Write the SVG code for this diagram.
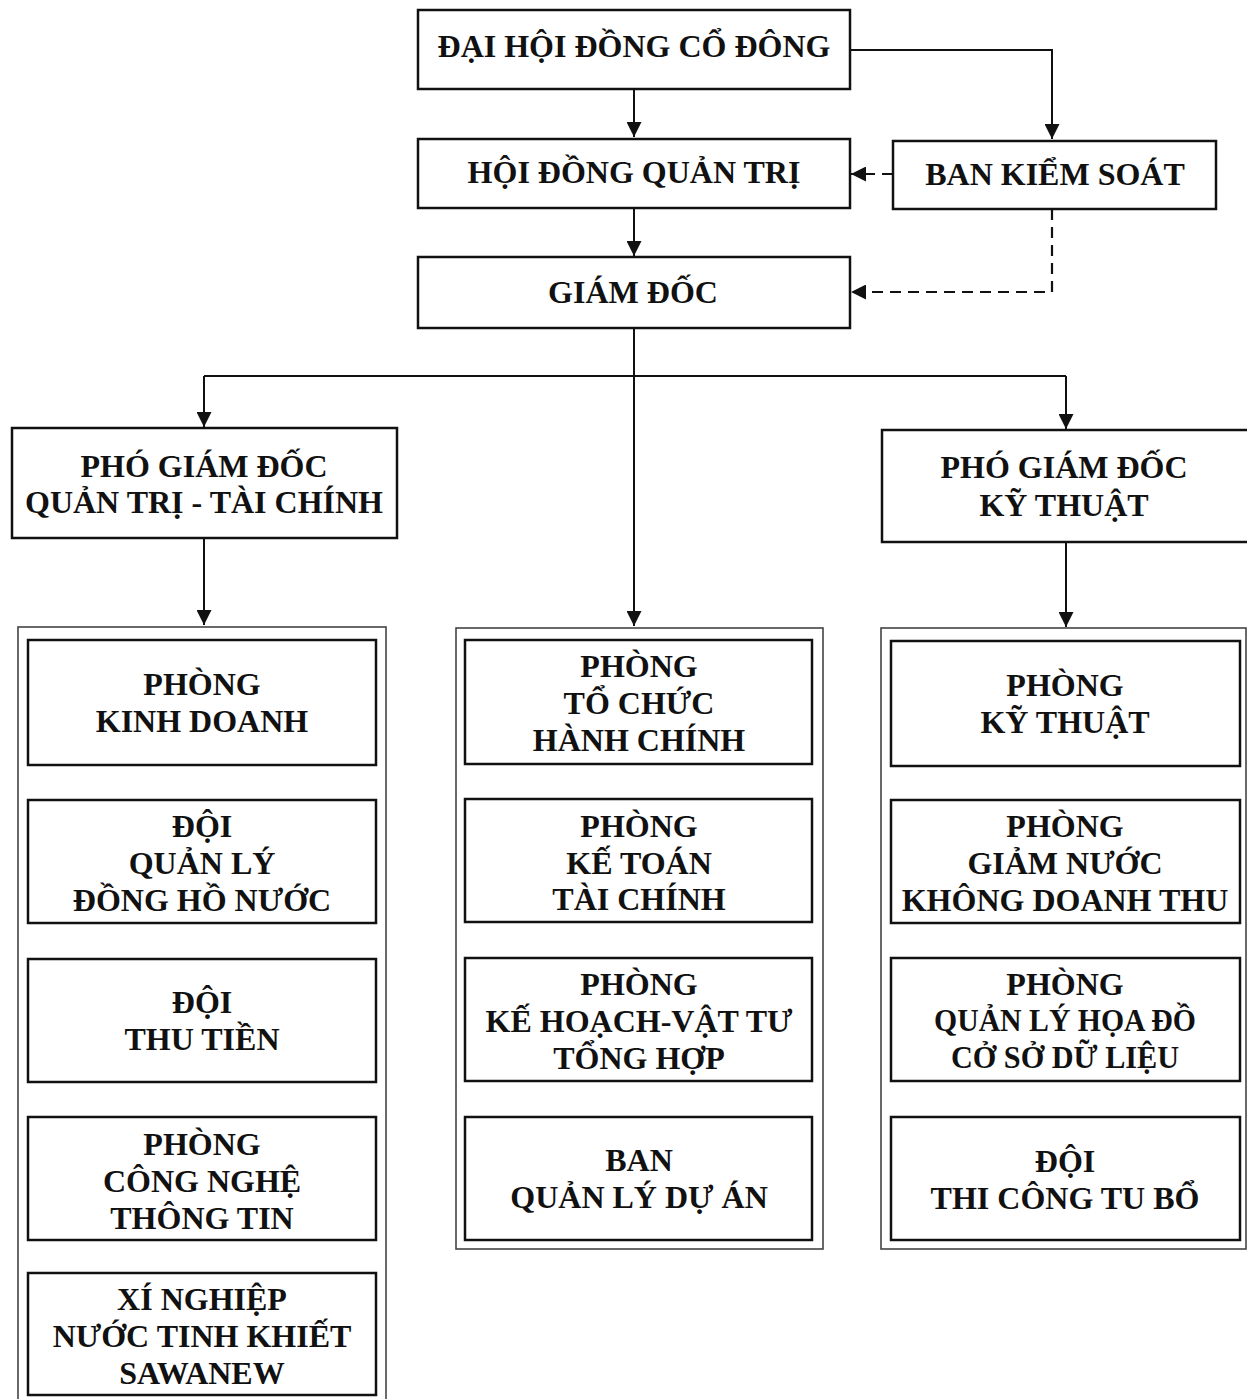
<svg xmlns="http://www.w3.org/2000/svg" width="1247" height="1399" viewBox="0 0 1247 1399">
<style>
.bg{fill:#ffffff}
.box{fill:#ffffff;stroke:#111111;stroke-width:2.5}
.cont{fill:none;stroke:#444444;stroke-width:1.6}
.t{font-family:"Liberation Serif","Times New Roman",serif;font-weight:bold;font-size:32px;fill:#111111;text-anchor:middle}
.c{fill:none;stroke:#111111;stroke-width:2}
.d{fill:none;stroke:#111111;stroke-width:2.2;stroke-dasharray:11 7}
</style>
<defs>
<marker id="ah" viewBox="0 0 10 10" refX="10" refY="5" markerWidth="17" markerHeight="15" markerUnits="userSpaceOnUse" orient="auto">
<path d="M0,0 L10,5 L0,10 Z" fill="#111111"/>
</marker>
</defs>
<rect class="bg" x="0" y="0" width="1247" height="1399"/>

<g id="containers">
<rect id="container-left" class="cont" x="18" y="627" width="368" height="800"/>
<rect id="container-mid" class="cont" x="456" y="628" width="367" height="621"/>
<rect id="container-right" class="cont" x="881" y="628" width="365" height="621"/>
</g>

<g id="connectors">
<path class="c" d="M634,89 V137" marker-end="url(#ah)"/>
<path class="c" d="M850,50 H1052 V139" marker-end="url(#ah)"/>
<path class="c" d="M634,208 V256" marker-end="url(#ah)"/>
<path class="d" d="M893,174 H851" marker-end="url(#ah)"/>
<path class="d" d="M1052,209 V292 H851" marker-end="url(#ah)"/>
<path class="c" d="M634,328 V626" marker-end="url(#ah)"/>
<path class="c" d="M204,376 H1066"/>
<path class="c" d="M204,376 V427" marker-end="url(#ah)"/>
<path class="c" d="M1066,376 V429" marker-end="url(#ah)"/>
<path class="c" d="M204,538 V625" marker-end="url(#ah)"/>
<path class="c" d="M1066,542 V627" marker-end="url(#ah)"/>
</g>

<g id="dai-hoi-dong-co-dong">
<rect class="box" x="418" y="10" width="432" height="79"/>
<text class="t" x="634" y="57">ĐẠI HỘI ĐỒNG CỔ ĐÔNG</text>
</g>
<g id="hoi-dong-quan-tri">
<rect class="box" x="418" y="139" width="432" height="69"/>
<text class="t" x="634" y="183">HỘI ĐỒNG QUẢN TRỊ</text>
</g>
<g id="ban-kiem-soat">
<rect class="box" x="893" y="141" width="323" height="68"/>
<text class="t" x="1055" y="185">BAN KIỂM SOÁT</text>
</g>
<g id="giam-doc">
<rect class="box" x="418" y="257" width="432" height="71"/>
<text class="t" x="633" y="303">GIÁM ĐỐC</text>
</g>
<g id="pgd-quan-tri-tai-chinh">
<rect class="box" x="12" y="428" width="385" height="110"/>
<text class="t" x="204" y="477">PHÓ GIÁM ĐỐC</text>
<text class="t" x="204" y="513">QUẢN TRỊ - TÀI CHÍNH</text>
</g>
<g id="pgd-ky-thuat">
<rect class="box" x="882" y="430" width="372" height="112"/>
<text class="t" x="1064" y="478">PHÓ GIÁM ĐỐC</text>
<text class="t" x="1064" y="516">KỸ THUẬT</text>
</g>

<g id="phong-kinh-doanh">
<rect class="box" x="28" y="640" width="348" height="125"/>
<text class="t" x="202" y="695">PHÒNG</text>
<text class="t" x="202" y="732">KINH DOANH</text>
</g>
<g id="doi-quan-ly-dong-ho-nuoc">
<rect class="box" x="28" y="800" width="348" height="123"/>
<text class="t" x="202" y="837">ĐỘI</text>
<text class="t" x="202" y="874">QUẢN LÝ</text>
<text class="t" x="202" y="911">ĐỒNG HỒ NƯỚC</text>
</g>
<g id="doi-thu-tien">
<rect class="box" x="28" y="959" width="348" height="123"/>
<text class="t" x="202" y="1013">ĐỘI</text>
<text class="t" x="202" y="1050">THU TIỀN</text>
</g>
<g id="phong-cong-nghe-thong-tin">
<rect class="box" x="28" y="1117" width="348" height="123"/>
<text class="t" x="202" y="1155">PHÒNG</text>
<text class="t" x="202" y="1192">CÔNG NGHỆ</text>
<text class="t" x="202" y="1229">THÔNG TIN</text>
</g>
<g id="xi-nghiep-nuoc-tinh-khiet">
<rect class="box" x="28" y="1273" width="348" height="122"/>
<text class="t" x="202" y="1310">XÍ NGHIỆP</text>
<text class="t" x="202" y="1347">NƯỚC TINH KHIẾT</text>
<text class="t" x="202" y="1384">SAWANEW</text>
</g>

<g id="phong-to-chuc-hanh-chinh">
<rect class="box" x="465" y="640" width="347" height="124"/>
<text class="t" x="639" y="677">PHÒNG</text>
<text class="t" x="639" y="714">TỔ CHỨC</text>
<text class="t" x="639" y="751">HÀNH CHÍNH</text>
</g>
<g id="phong-ke-toan-tai-chinh">
<rect class="box" x="465" y="799" width="347" height="123"/>
<text class="t" x="639" y="837">PHÒNG</text>
<text class="t" x="639" y="874">KẾ TOÁN</text>
<text class="t" x="639" y="910">TÀI CHÍNH</text>
</g>
<g id="phong-ke-hoach-vat-tu">
<rect class="box" x="465" y="958" width="347" height="123"/>
<text class="t" x="639" y="995">PHÒNG</text>
<text class="t" x="639" y="1032">KẾ HOẠCH-VẬT TƯ</text>
<text class="t" x="639" y="1069">TỔNG HỢP</text>
</g>
<g id="ban-quan-ly-du-an">
<rect class="box" x="465" y="1117" width="347" height="123"/>
<text class="t" x="639" y="1171">BAN</text>
<text class="t" x="639" y="1208">QUẢN LÝ DỰ ÁN</text>
</g>

<g id="phong-ky-thuat">
<rect class="box" x="891" y="641" width="349" height="125"/>
<text class="t" x="1065" y="696">PHÒNG</text>
<text class="t" x="1065" y="733">KỸ THUẬT</text>
</g>
<g id="phong-giam-nuoc-khong-doanh-thu">
<rect class="box" x="891" y="800" width="349" height="123"/>
<text class="t" x="1065" y="837">PHÒNG</text>
<text class="t" x="1065" y="874">GIẢM NƯỚC</text>
<text class="t" x="1065" y="911">KHÔNG DOANH THU</text>
</g>
<g id="phong-quan-ly-hoa-do">
<rect class="box" x="891" y="958" width="349" height="123"/>
<text class="t" x="1065" y="995">PHÒNG</text>
<text class="t" x="1065" y="1031" textLength="262" lengthAdjust="spacingAndGlyphs">QUẢN LÝ HỌA ĐỒ</text>
<text class="t" x="1065" y="1068" textLength="228" lengthAdjust="spacingAndGlyphs">CỞ SỞ DỮ LIỆU</text>
</g>
<g id="doi-thi-cong-tu-bo">
<rect class="box" x="891" y="1117" width="349" height="123"/>
<text class="t" x="1065" y="1172">ĐỘI</text>
<text class="t" x="1065" y="1209">THI CÔNG TU BỔ</text>
</g>
</svg>
